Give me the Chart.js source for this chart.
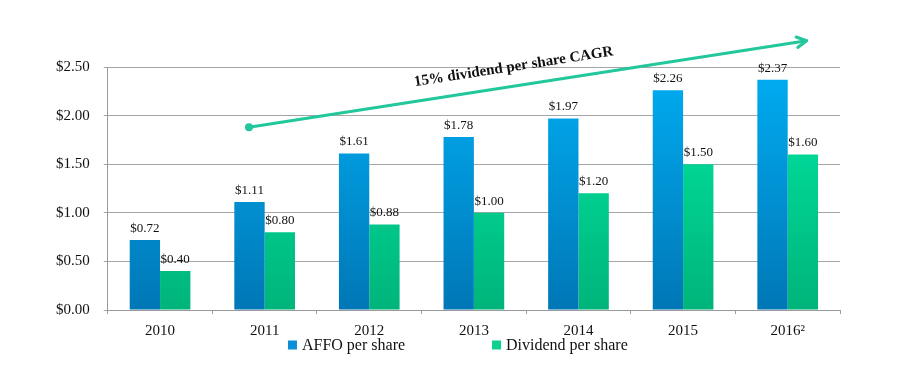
<!DOCTYPE html>
<html>
<head>
<meta charset="utf-8">
<script src="https://cdn.jsdelivr.net/npm/chart.js@4/dist/chart.umd.min.js"></script>
<style>
  html, body { margin: 0; padding: 0; background: #fff; }
  #wrap { width: 924px; height: 372px; position: relative; }
</style>
</head>
<body>
<div id="wrap"><canvas id="myChart" width="924" height="372"></canvas></div>
<script>
// chart data
var years = ['2010', '2011', '2012', '2013', '2014', '2015', '2016\u00B2'];
var affo = [0.72, 1.11, 1.61, 1.78, 1.97, 2.26, 2.37];
var dividend = [0.40, 0.80, 0.88, 1.00, 1.20, 1.50, 1.60];
var seriesNames = ['AFFO per share', 'Dividend per share'];
var cagrText = '15% dividend per share CAGR';
// arrow ends, in (category index, value)
var arrowFrom = [0.85, 1.88];
var arrowTo = [6.18, 2.77];

var serif = '"Liberation Serif", "DejaVu Serif", serif';
var arrowColor = '#22c79b';

function vGradient(ctx, area, top, bottom) {
    var g = ctx.createLinearGradient(0, area.top, 0, area.bottom);
    g.addColorStop(0, top);
    g.addColorStop(1, bottom);
    return g;
}

// value labels above bars
var barLabels = {
    id: 'barLabels',
    afterDatasetsDraw: function(chart) {
        var ctx = chart.ctx;
        ctx.save();
        ctx.font = '13px ' + serif;
        ctx.fillStyle = '#111';
        ctx.textAlign = 'center';
        ctx.textBaseline = 'bottom';
        chart.data.datasets.forEach(function(ds, i) {
            chart.getDatasetMeta(i).data.forEach(function(bar, j) {
                ctx.fillText('$' + ds.data[j].toFixed(2), bar.x, bar.y - 5);
            });
        });
        ctx.restore();
    }
};

// CAGR arrow with text
var cagrArrow = {
    id: 'cagrArrow',
    afterDraw: function(chart) {
        var ctx = chart.ctx;
        var x = chart.scales.x, y = chart.scales.y;
        var x0 = x.getPixelForValue(arrowFrom[0]), y0 = y.getPixelForValue(arrowFrom[1]);
        var x1 = x.getPixelForValue(arrowTo[0]), y1 = y.getPixelForValue(arrowTo[1]);
        var ang = Math.atan2(y1 - y0, x1 - x0);
        ctx.save();
        ctx.strokeStyle = arrowColor;
        ctx.fillStyle = arrowColor;
        ctx.lineWidth = 3;
        ctx.lineCap = 'round';
        ctx.lineJoin = 'round';
        ctx.beginPath();
        ctx.moveTo(x0, y0);
        ctx.lineTo(x1, y1);
        ctx.stroke();
        ctx.beginPath();
        ctx.arc(x0, y0, 4, 0, Math.PI * 2);
        ctx.fill();
        // open arrow head
        var len = 11;
        ctx.beginPath();
        ctx.moveTo(x1 - len * Math.cos(ang - 0.5), y1 - len * Math.sin(ang - 0.5));
        ctx.lineTo(x1, y1);
        ctx.lineTo(x1 - len * Math.cos(ang + 0.5), y1 - len * Math.sin(ang + 0.5));
        ctx.stroke();
        // text along the arrow
        var t = 0.48;
        var tx = x0 + (x1 - x0) * t + 19 * Math.sin(ang);
        var ty = y0 + (y1 - y0) * t - 19 * Math.cos(ang);
        ctx.translate(tx, ty);
        ctx.rotate(ang);
        ctx.font = 'bold 15px ' + serif;
        ctx.fillStyle = '#111';
        ctx.textAlign = 'center';
        ctx.textBaseline = 'middle';
        ctx.fillText(cagrText, 0, 0);
        ctx.restore();
    }
};

// legend under the axis
var bottomLegend = {
    id: 'bottomLegend',
    afterDraw: function(chart) {
        var ctx = chart.ctx;
        var area = chart.chartArea;
        var box = 9, gap = 5, spacing = 87;
        ctx.save();
        ctx.font = '16px ' + serif;
        ctx.textBaseline = 'middle';
        var items = chart.data.datasets.map(function(ds) {
            return { text: ds.label, color: ds.legendColor, w: ctx.measureText(ds.label).width };
        });
        var total = 0;
        items.forEach(function(it, i) { total += box + gap + it.w + (i ? spacing : 0); });
        var cx = (area.left + area.right) / 2 - 16;
        var x = cx - total / 2;
        var yy = area.bottom + 35;
        items.forEach(function(it) {
            ctx.fillStyle = it.color;
            ctx.fillRect(x, yy - box / 2, box, box);
            ctx.fillStyle = '#111';
            ctx.fillText(it.text, x + box + gap, yy + 1);
            x += box + gap + it.w + spacing;
        });
        ctx.restore();
    }
};

var ctx = document.getElementById('myChart').getContext('2d');
var myChart = new Chart(ctx, {
    type: 'bar',
    data: {
        labels: years,
        datasets: [{
            label: seriesNames[0],
            data: affo,
            legendColor: '#0a8fd6',
            backgroundColor: function(c) {
                var a = c.chart.chartArea;
                if (!a) return '#0a98e0';
                return vGradient(c.chart.ctx, a, '#00adf2', '#0077b6');
            }
        }, {
            label: seriesNames[1],
            data: dividend,
            legendColor: '#10cf92',
            backgroundColor: function(c) {
                var a = c.chart.chartArea;
                if (!a) return '#00d494';
                return vGradient(c.chart.ctx, a, '#00eaa6', '#00b47a');
            }
        }]
    },
    options: {
        responsive: false,
        animation: false,
        devicePixelRatio: 1,
        layout: { padding: { left: 42, right: 84, top: 67, bottom: 24 } },
        datasets: {
            bar: { barPercentage: 1, categoryPercentage: 0.58 }
        },
        plugins: {
            legend: { display: false },
            tooltip: { enabled: false }
        },
        scales: {
            x: {
                grid: { drawOnChartArea: false, drawTicks: true, tickLength: 4, color: '#9a9a9a' },
                border: { color: '#9a9a9a' },
                ticks: { color: '#111', font: { family: serif, size: 15 }, padding: 8 }
            },
            y: {
                min: 0,
                max: 2.5,
                grid: { color: '#a6a6a6', tickLength: 4 },
                border: { color: '#9a9a9a' },
                ticks: {
                    stepSize: 0.5,
                    color: '#111',
                    padding: 14,
                    font: { family: serif, size: 15 },
                    callback: function(v) { return '$' + v.toFixed(2); }
                }
            }
        }
    },
    plugins: [barLabels, cagrArrow, bottomLegend]
});
</script>
</body>
</html>
